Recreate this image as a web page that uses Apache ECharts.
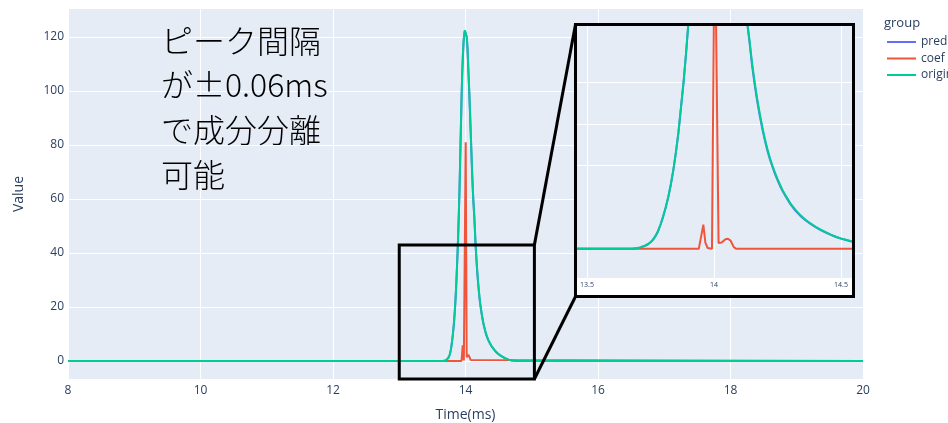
<!DOCTYPE html>
<html><head><meta charset="utf-8">
<script src="https://cdn.jsdelivr.net/npm/echarts@6/dist/echarts.min.js"></script>
<style>html,body{margin:0;padding:0;background:#fff}#c{width:948px;height:423px}</style>
</head><body><div id="c"></div>
<script>
// ---- data ----
const timeSig = [8, 9, 10, 11, 12, 13, 13.5, 13.6,
  13.66, 13.68, 13.70, 13.71, 13.72, 13.73, 13.74, 13.75, 13.76, 13.77, 13.78, 13.79, 13.80, 13.81, 13.82, 13.83, 13.84, 13.85, 13.86,
  13.87, 13.88, 13.89, 13.90, 13.91, 13.92, 13.93, 13.94, 13.95, 13.96, 13.97, 13.98, 13.99, 14.00, 14.01, 14.02, 14.03, 14.04, 14.05, 14.06, 14.07, 14.08, 14.09, 14.10, 14.11, 14.12, 14.13, 14.14, 14.15, 14.16, 14.17, 14.18, 14.19, 14.20,
  14.21, 14.22, 14.23, 14.24, 14.25, 14.26, 14.27, 14.28, 14.29, 14.30,
  14.32, 14.34, 14.36, 14.38, 14.40, 14.42, 14.44, 14.46, 14.48, 14.50,
  14.53, 14.56, 14.60, 14.65, 14.70, 14.75, 14.80,
  15, 16, 17, 18, 19, 20];
const original = [0, 0, 0, 0, 0, 0, 0, 0,
  0, 0.05, 0.2, 0.35, 0.55, 0.8, 1.1, 1.6, 2.2, 3.1, 4.3, 5.9, 7.8, 10, 12.5, 15.5, 19, 23.2, 28,
  34, 40, 47, 55, 64, 75, 86, 97, 106, 113, 118, 121, 122.5, 123, 122.5, 120, 116, 110, 104, 98, 91, 84, 77, 70, 64, 59, 55, 50, 44.5, 40, 36, 32.5, 29.3, 26.5,
  24, 21.8, 20, 18.3, 16.8, 15.4, 14.1, 13, 12, 11,
  9.4, 8.1, 7.0, 6.1, 5.3, 4.6, 4.0, 3.4, 2.9, 2.5,
  2.0, 1.5, 1.0, 0.5, 0.2, 0.05, 0,
  0, 0, 0, 0, 0, 0];
const predicted = [0, 0, 0, 0, 0, 0, 0, 0,
  0, 0.05, 0.2, 0.35, 0.55, 0.8, 1.1, 1.6, 2.2, 3.1, 4.3, 5.9, 7.8, 10, 12.4, 15.4, 18.9, 23.1, 27.9,
  33.9, 39.9, 46.9, 54.9, 63.9, 74.8, 85.8, 96.8, 105.8, 112.8, 117.8, 120.8, 122.3, 122.8, 122.3, 119.8, 115.8, 109.7, 103.6, 97.5, 90.5, 83.5, 76.5, 69.5, 63.5, 58.5, 54.5, 49.5, 44, 39.5, 35.5, 32, 28.9, 26.1,
  23.6, 21.5, 19.7, 18, 16.5, 15.1, 13.9, 12.8, 11.8, 10.8,
  9.2, 7.9, 6.9, 6.0, 5.2, 4.5, 3.9, 3.35, 2.85, 2.45,
  1.95, 1.45, 0.95, 0.5, 0.2, 0.05, 0,
  0, 0, 0, 0, 0, 0];
const timeCoef = [8, 13.90, 13.94, 13.948, 13.958, 13.966, 13.975, 13.992, 14.003, 14.018, 14.03, 14.045, 14.055, 14.065, 14.078, 14.088, 20];
const coef = [0, 0, 0, 2.5, 5.8, 1.5, 0.2, 0, 81, 1.4, 1.5, 2.3, 2.4, 2.0, 0.4, 0, 0];

const seriesNames = ['predicted', 'coef', 'original'];
const xTicks = [8, 10, 12, 14, 16, 18, 20];
const yTicks = [0, 20, 40, 60, 80, 100, 120];
const insetXTicks = [13.5, 14, 14.5];
const insetYTicks = [20, 30, 40];
const mainXRange = [8, 20];
const mainYRange = [-6.67, 130.37];
const insetXRange = [13.4606, 14.5433];
const insetYRange = [-7, 53.5];
const zoomBox = { x0: 13.0, x1: 15.04, y0: -6.67, y1: 43 };
const annotationText = 'ピーク間隔\nが±0.06ms\nで成分分離\n可能';
const legendTitle = 'group';

// ---- styles ----
const colors = { predicted: '#636efa', coef: '#EF553B', original: '#00cc96' };
const tickColor = '#2a3f5f';
const font = '"Open Sans", sans-serif';

function pairs(t, v) { return t.map((x, i) => [x, v[i]]); }
const dataMap = {
  predicted: pairs(timeSig, predicted),
  coef: pairs(timeCoef, coef),
  original: pairs(timeSig, original)
};

const series = [];
[0, 1].forEach(g => {
  seriesNames.forEach(n => {
    series.push({
      name: n, type: 'line', xAxisIndex: g, yAxisIndex: g,
      data: dataMap[n], showSymbol: false, symbol: 'none',
      lineStyle: { color: colors[n], width: 2 }, itemStyle: { color: colors[n] },
      z: g === 0 ? 2 : 6, clip: true, animation: false
    });
  });
});

const chart = echarts.init(document.getElementById('c'), null, { renderer: 'canvas' });
chart.setOption({
  animation: false,
  backgroundColor: '#fff',
  title: { text: legendTitle, left: 879, top: 12, textStyle: { fontSize: 13, fontWeight: 'normal', color: tickColor, fontFamily: font } },
  legend: {
    data: seriesNames, orient: 'vertical', left: 882, top: 30, icon: 'rect',
    itemWidth: 29, itemHeight: 2, itemGap: 2.5,
    textStyle: { fontSize: 12, color: tickColor, fontFamily: font, lineHeight: 14 }
  },
  grid: [
    { left: 68, top: 9, width: 795, height: 370, show: true, backgroundColor: '#e5ecf6', borderWidth: 0, containLabel: false, outerBoundsMode: 'none' },
    { left: 577, top: 26, width: 275, height: 252, show: true, backgroundColor: '#e5ecf6', borderWidth: 0, containLabel: false, outerBoundsMode: 'none', z: 4 }
  ],
  xAxis: [
    { type: 'value', gridIndex: 0, min: mainXRange[0], max: mainXRange[1], interval: 2,
      axisLine: { show: false }, axisTick: { show: false },
      axisLabel: { color: tickColor, fontSize: 12, fontFamily: font, margin: 6 },
      splitLine: { show: true, lineStyle: { color: '#fff', width: 1 } },
      name: 'Time(ms)', nameLocation: 'middle', nameGap: 29,
      nameTextStyle: { color: tickColor, fontSize: 14, fontFamily: font } },
    { type: 'value', gridIndex: 1, min: insetXRange[0], max: insetXRange[1], z: 4,
      axisLine: { show: false }, axisTick: { show: false, customValues: insetXTicks },
      axisLabel: { customValues: insetXTicks, color: tickColor, fontSize: 7, fontFamily: font, margin: 3 },
      splitLine: { show: true, lineStyle: { color: '#fff', width: 1 } } }
  ],
  yAxis: [
    { type: 'value', gridIndex: 0, min: mainYRange[0], max: mainYRange[1],
      axisLine: { show: false }, axisTick: { show: false, customValues: yTicks },
      axisLabel: { customValues: yTicks, color: tickColor, fontSize: 12, fontFamily: font, margin: 4 },
      splitLine: { show: true, lineStyle: { color: '#fff', width: 1 } },
      name: 'Value', nameLocation: 'middle', nameGap: 42, nameRotate: 90,
      nameTextStyle: { color: tickColor, fontSize: 14, fontFamily: font } },
    { type: 'value', gridIndex: 1, min: insetYRange[0], max: insetYRange[1], z: 4,
      axisLine: { show: false }, axisTick: { show: false, customValues: insetYTicks },
      axisLabel: { show: false, customValues: insetYTicks },
      splitLine: { show: true, lineStyle: { color: '#fff', width: 1 } } }
  ],
  series: series
});

// overlays positioned through the axes
const px = (g, x, y) => chart.convertToPixel({ xAxisIndex: g, yAxisIndex: g }, [x, y]);
const iTL = px(1, insetXRange[0], insetYRange[1]);
const iBR = px(1, insetXRange[1], insetYRange[0]);
const strip = 18.5;
const bx = iTL[0] - 1.5, by = iTL[1] - 1.5, bw = iBR[0] - iTL[0] + 3, bh = iBR[1] - iTL[1] + 1.5 + strip;
const z0 = px(0, zoomBox.x0, zoomBox.y1);
const z1 = px(0, zoomBox.x1, zoomBox.y0);

chart.setOption({
  graphic: [
    { type: 'rect', z: 3, shape: { x: bx, y: by, width: bw, height: bh }, style: { fill: '#fff' }, silent: true },
    { type: 'rect', z: 10, shape: { x: bx, y: by, width: bw, height: bh }, style: { fill: 'none', stroke: '#000', lineWidth: 3 }, silent: true },
    { type: 'rect', z: 10, shape: { x: z0[0], y: z0[1], width: z1[0] - z0[0], height: z1[1] - z0[1] }, style: { fill: 'none', stroke: '#000', lineWidth: 3 }, silent: true },
    { type: 'line', z: 10, shape: { x1: z1[0], y1: z0[1], x2: bx, y2: by }, style: { stroke: '#000', lineWidth: 3 }, silent: true },
    { type: 'line', z: 10, shape: { x1: z1[0], y1: z1[1], x2: bx, y2: by + bh }, style: { stroke: '#000', lineWidth: 3 }, silent: true },
    { type: 'text', z: 10, x: 161, y: 18, style: { text: annotationText, fill: '#000', font: '300 32px "Noto Sans CJK JP"', lineHeight: 44.7 }, silent: true }
  ]
});
</script></body></html>
